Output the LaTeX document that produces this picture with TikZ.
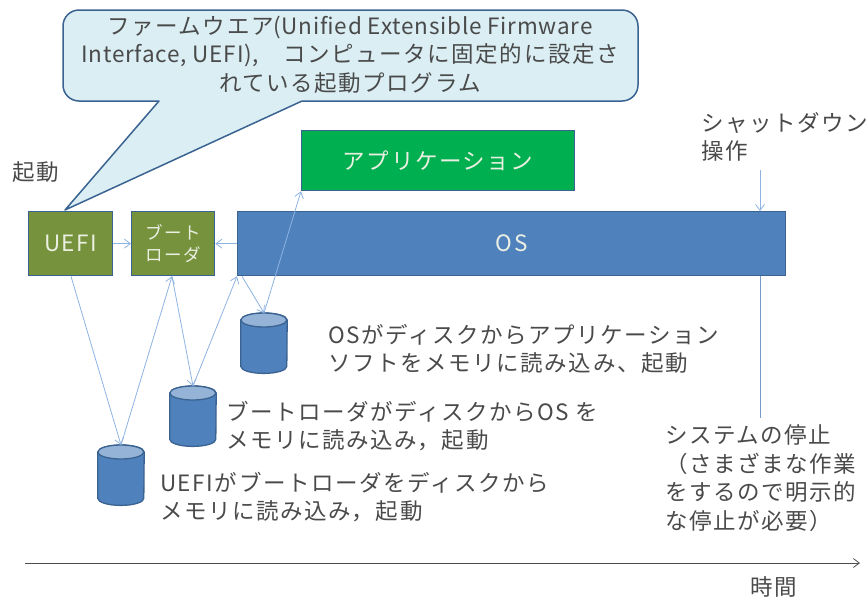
\documentclass[tikz,border=0pt]{standalone}
\usepackage{fontspec}
\setmainfont{Noto Sans CJK JP}[LetterSpace=7]
\newfontfamily\latintight{Noto Sans CJK JP}[LetterSpace=3.5]
\usetikzlibrary{arrows.meta,calc}
\definecolor{bluefill}{HTML}{4F81BD}
\definecolor{blueline}{HTML}{3A6391}
\definecolor{bluelight}{HTML}{95B3D7}
\definecolor{olivefill}{HTML}{76923C}
\definecolor{greenfill}{HTML}{00B050}
\definecolor{calloutfill}{HTML}{DAEEF3}
\definecolor{connector}{HTML}{8DB3E2}
\definecolor{txt}{HTML}{4A4A4A}
\tikzset{
  box/.style={draw=blueline,line width=1.3pt,inner sep=0pt,anchor=north west,text=white!85!olivefill,font=\fontsize{22.5}{26}\selectfont,align=center},
  disk/.style={inner sep=0pt,minimum width=46pt,minimum height=60pt,anchor=north},
  flow/.style={draw=connector,line width=0.8pt,-{Straight Barb[length=6pt,width=9pt]}},
  note/.style={text=txt,font=\fontsize{22.5}{28.5}\selectfont,anchor=west,align=left,inner sep=0pt},
  diskline/.style={draw=blueline,line width=1.3pt},
}
% cylinder drawn round a named node (y axis points down: angle 90 is the lower side)
\newcommand{\diskshape}[1]{%
  \path[diskline,fill=bluefill] ([yshift=-7pt]#1.north west)
    -- ([yshift=7pt]#1.south west)
    arc[start angle=180,end angle=0,x radius=23,y radius=7]
    -- ([yshift=-7pt]#1.north east)
    arc[start angle=360,end angle=180,x radius=23,y radius=7] -- cycle;
  \path[diskline,fill=bluelight] ([yshift=-7pt]#1.north west)
    arc[start angle=180,end angle=540,x radius=23,y radius=7] -- cycle;
}
\begin{document}
\begin{tikzpicture}[x=1pt,y=-1pt]
\useasboundingbox (0,0) rectangle (868,598);
% callout
\coordinate (tip) at (65,210);
\coordinate (tailA) at (159,101);
\coordinate (tailB) at (302,101);
\draw[fill=calloutfill,draw=blueline,line width=1.5pt,line join=round]
  (tailA) -- (tip) -- (tailB) -- (622,101)
  arc[start angle=90,end angle=0,radius=16] -- (638,26)
  arc[start angle=0,end angle=-90,radius=16] -- (79,10)
  arc[start angle=-90,end angle=-180,radius=16] -- (63,85)
  arc[start angle=180,end angle=90,radius=16] -- cycle;
\node[text=txt,font=\fontsize{22.5}{28.5}\selectfont,align=center,inner sep=0pt] (calloutText) at (350,54.5)
  {ファームウエア{\latintight (Unified Extensible Firmware}\\{\latintight Interface, UEFI),}　コンピュータに固定的に設定さ\\れている起動プログラム};
% boxes
\node[box,fill=olivefill,minimum width=84pt,minimum height=64pt] (uefi) at (28,211) {UEFI};
\node[box,fill=olivefill,minimum width=83pt,minimum height=64pt,font=\fontsize{17.5}{21.5}\selectfont] (boot) at (131,211) {ブート\\ローダ};
\node[box,fill=bluefill,minimum width=548pt,minimum height=64pt] (os) at (237,211) {OS};
\node[box,fill=greenfill,minimum width=273pt,minimum height=60pt] (app) at (301,130) {アプリケーション};
% disks
\node[disk] (d1) at (121,445) {};
\node[disk] (d2) at (193,386) {};
\node[disk] (d3) at (264,313) {};
\diskshape{d1}\diskshape{d2}\diskshape{d3}
% connectors
\draw[flow] (uefi.east) -- (boot.west);
\draw[flow] (os.west |- boot.east) -- (boot.east);
\draw[flow] ([xshift=43pt]uefi.south west) -- (d1.north);
\draw[flow] (d1.north) -- ([xshift=41pt]boot.south west);
\draw[flow] ([xshift=41pt]boot.south west) -- (d2.north);
\draw[flow] (d2.north) -- (os.south west);
\draw[flow] ([xshift=5pt]os.south west) -- (d3.north);
\draw[flow] (d3.north) -- (app.south west);
\coordinate (shutTop) at (760,170);
\draw[flow] (shutTop) -- (os.north -| shutTop);
\coordinate (stopEnd) at (760,418);
\draw[draw=connector!70!blueline,line width=0.8pt] (os.south -| stopEnd) -- (stopEnd);
\coordinate (timeA) at (25,563);
\coordinate (timeB) at (860,563);
\draw[draw=black!70,line width=0.8pt,-{Straight Barb[length=6pt,width=9pt]}] (timeA) -- (timeB);
% labels
\node[note] (start) at (12,172) {起動};
\node[note] (shut) at (701,137) {シャットダウン\\操作};
\node[note] (n3) at (328,349) {OSがディスクからアプリケーション\\ソフトをメモリに読み込み、起動};
\node[note] (n2) at (226,426) {ブートローダがディスクからOS を\\メモリに読み込み，起動};
\node[note] (n1) at (160,497) {UEFIがブートローダをディスクから\\メモリに読み込み，起動};
\node[note] (stop) at (665,478) {システムの停止\\（さまざまな作業\\をするので明示的\\な停止が必要）};
\node[note] (time) at (750,587) {時間};
\end{tikzpicture}
\end{document}
